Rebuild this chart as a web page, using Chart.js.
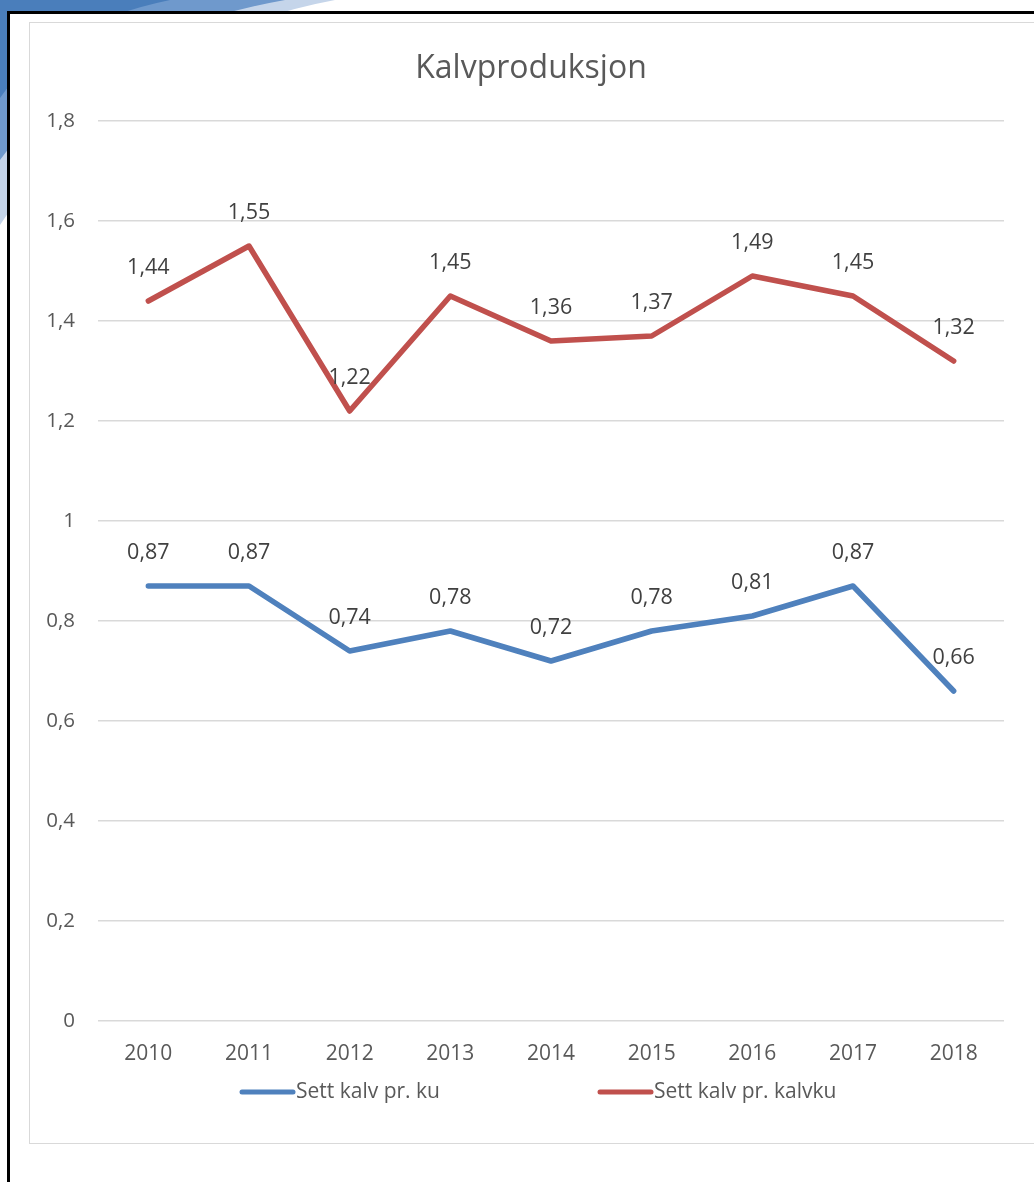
<!DOCTYPE html>
<html>
<head>
<meta charset="utf-8">
<title>Kalvproduksjon</title>
<script src="https://cdn.jsdelivr.net/npm/chart.js@4.4.1/dist/chart.umd.min.js"></script>
<style>
  html, body { margin: 0; padding: 0; background: #fff; }
  body { width: 1034px; height: 1182px; position: relative; overflow: hidden; }
  #deco { position: absolute; left: 0; top: 0; }
  #page { position: absolute; left: 7px; top: 11px; width: 1040px; height: 1200px;
          background: #fff; border-left: 3px solid #000; border-top: 3px solid #000; }
  #frame { position: absolute; left: 29px; top: 22px; width: 1020px; height: 1120px;
           border: 1.5px solid #d9d9d9; background: #fff; }
  #chartBox { position: absolute; left: 30px; top: 23px; width: 1004px; height: 1120px; }
</style>
</head>
<body>
<svg id="deco" width="400" height="260">
  <path d="M0,0 L335,0 Q120,40 0,225 Z" fill="#c5d5ea"/>
  <path d="M0,0 L285,0 Q90,35 0,160 Z" fill="#6f99cc"/>
  <path d="M0,0 L170,0 Q50,25 0,98 Z" fill="#4a7ebb"/>
</svg>
<div id="page"></div>
<div id="frame"></div>
<div id="chartBox"><canvas id="chart"></canvas></div>

<script>
  // chart data
  const years = ['2010', '2011', '2012', '2013', '2014', '2015', '2016', '2017', '2018'];
  const kalvPrKu = [0.87, 0.87, 0.74, 0.78, 0.72, 0.78, 0.81, 0.87, 0.66];
  const kalvPrKalvku = [1.44, 1.55, 1.22, 1.45, 1.36, 1.37, 1.49, 1.45, 1.32];
  const seriesNames = ['Sett kalv pr. ku', 'Sett kalv pr. kalvku'];
  const chartTitle = 'Kalvproduksjon';

  const FONT = '"Open Sans", "Noto Sans", sans-serif';
  const BLUE = '#4f81bd';
  const RED = '#c0504d';

  const fmt = (v, d) => v.toFixed(d).replace('.', ',');

  // title, value labels and legend, drawn Excel-style
  const excelDecor = {
    id: 'excelDecor',
    afterDatasetsDraw(chart) {
      const ctx = chart.ctx;
      ctx.save();
      ctx.textAlign = 'center';
      ctx.textBaseline = 'middle';
      ctx.fillStyle = '#404040';
      ctx.font = '21.5px ' + FONT;
      chart.data.datasets.forEach((ds, i) => {
        chart.getDatasetMeta(i).data.forEach((pt, j) => {
          ctx.fillText(fmt(ds.data[j], 2), pt.x, pt.y - 33);
        });
      });
      ctx.restore();
    },
    afterDraw(chart) {
      const ctx = chart.ctx;
      ctx.save();
      ctx.textBaseline = 'middle';
      ctx.fillStyle = '#595959';
      ctx.textAlign = 'center';
      ctx.font = '32px ' + FONT;
      ctx.fillText(chartTitle, chart.width / 2 - 1, 46);

      // legend
      const legendY = 1069;
      const startX = [210, 568];
      ctx.font = '21px ' + FONT;
      ctx.textAlign = 'left';
      chart.data.datasets.forEach((ds, i) => {
        const x = startX[i];
        ctx.strokeStyle = ds.borderColor;
        ctx.lineWidth = 5;
        ctx.lineCap = 'round';
        ctx.beginPath();
        ctx.moveTo(x + 2, legendY);
        ctx.lineTo(x + 53, legendY);
        ctx.stroke();
        ctx.fillStyle = '#595959';
        ctx.fillText(ds.label, x + 56, legendY);
      });
      ctx.restore();
    }
  };

  new Chart(document.getElementById('chart'), {
    type: 'line',
    data: {
      labels: years,
      datasets: [{
        label: seriesNames[0],
        data: kalvPrKu,
        borderColor: BLUE,
        backgroundColor: BLUE,
        borderWidth: 5.5,
        pointRadius: 0,
        tension: 0,
        borderJoinStyle: 'round',
        borderCapStyle: 'round'
      }, {
        label: seriesNames[1],
        data: kalvPrKalvku,
        borderColor: RED,
        backgroundColor: RED,
        borderWidth: 5.5,
        pointRadius: 0,
        tension: 0,
        borderJoinStyle: 'round',
        borderCapStyle: 'round'
      }]
    },
    options: {
      responsive: true,
      maintainAspectRatio: false,
      animation: false,
      layout: { padding: { top: 98, right: 30, bottom: 72, left: 0 } },
      plugins: {
        legend: { display: false },
        title: { display: false },
        tooltip: { enabled: false }
      },
      scales: {
        x: {
          offset: true,
          afterFit: (axis) => { axis.height = 50; },
          grid: { display: false, drawTicks: false },
          border: { display: false },
          ticks: { color: '#595959', font: { family: FONT, size: 21 }, padding: 20, maxRotation: 0 }
        },
        y: {
          min: 0,
          max: 1.8,
          afterFit: (axis) => { axis.width = 68; },
          grid: { color: '#d9d9d9', lineWidth: 1.5, drawTicks: false },
          border: { display: false },
          ticks: {
            stepSize: 0.2,
            color: '#595959',
            font: { family: FONT, size: 20.5 },
            padding: 23,
            callback: (v) => fmt(Number(v.toFixed(1)), 1).replace(',0', '')
          }
        }
      }
    },
    plugins: [excelDecor]
  });
</script>
</body>
</html>
